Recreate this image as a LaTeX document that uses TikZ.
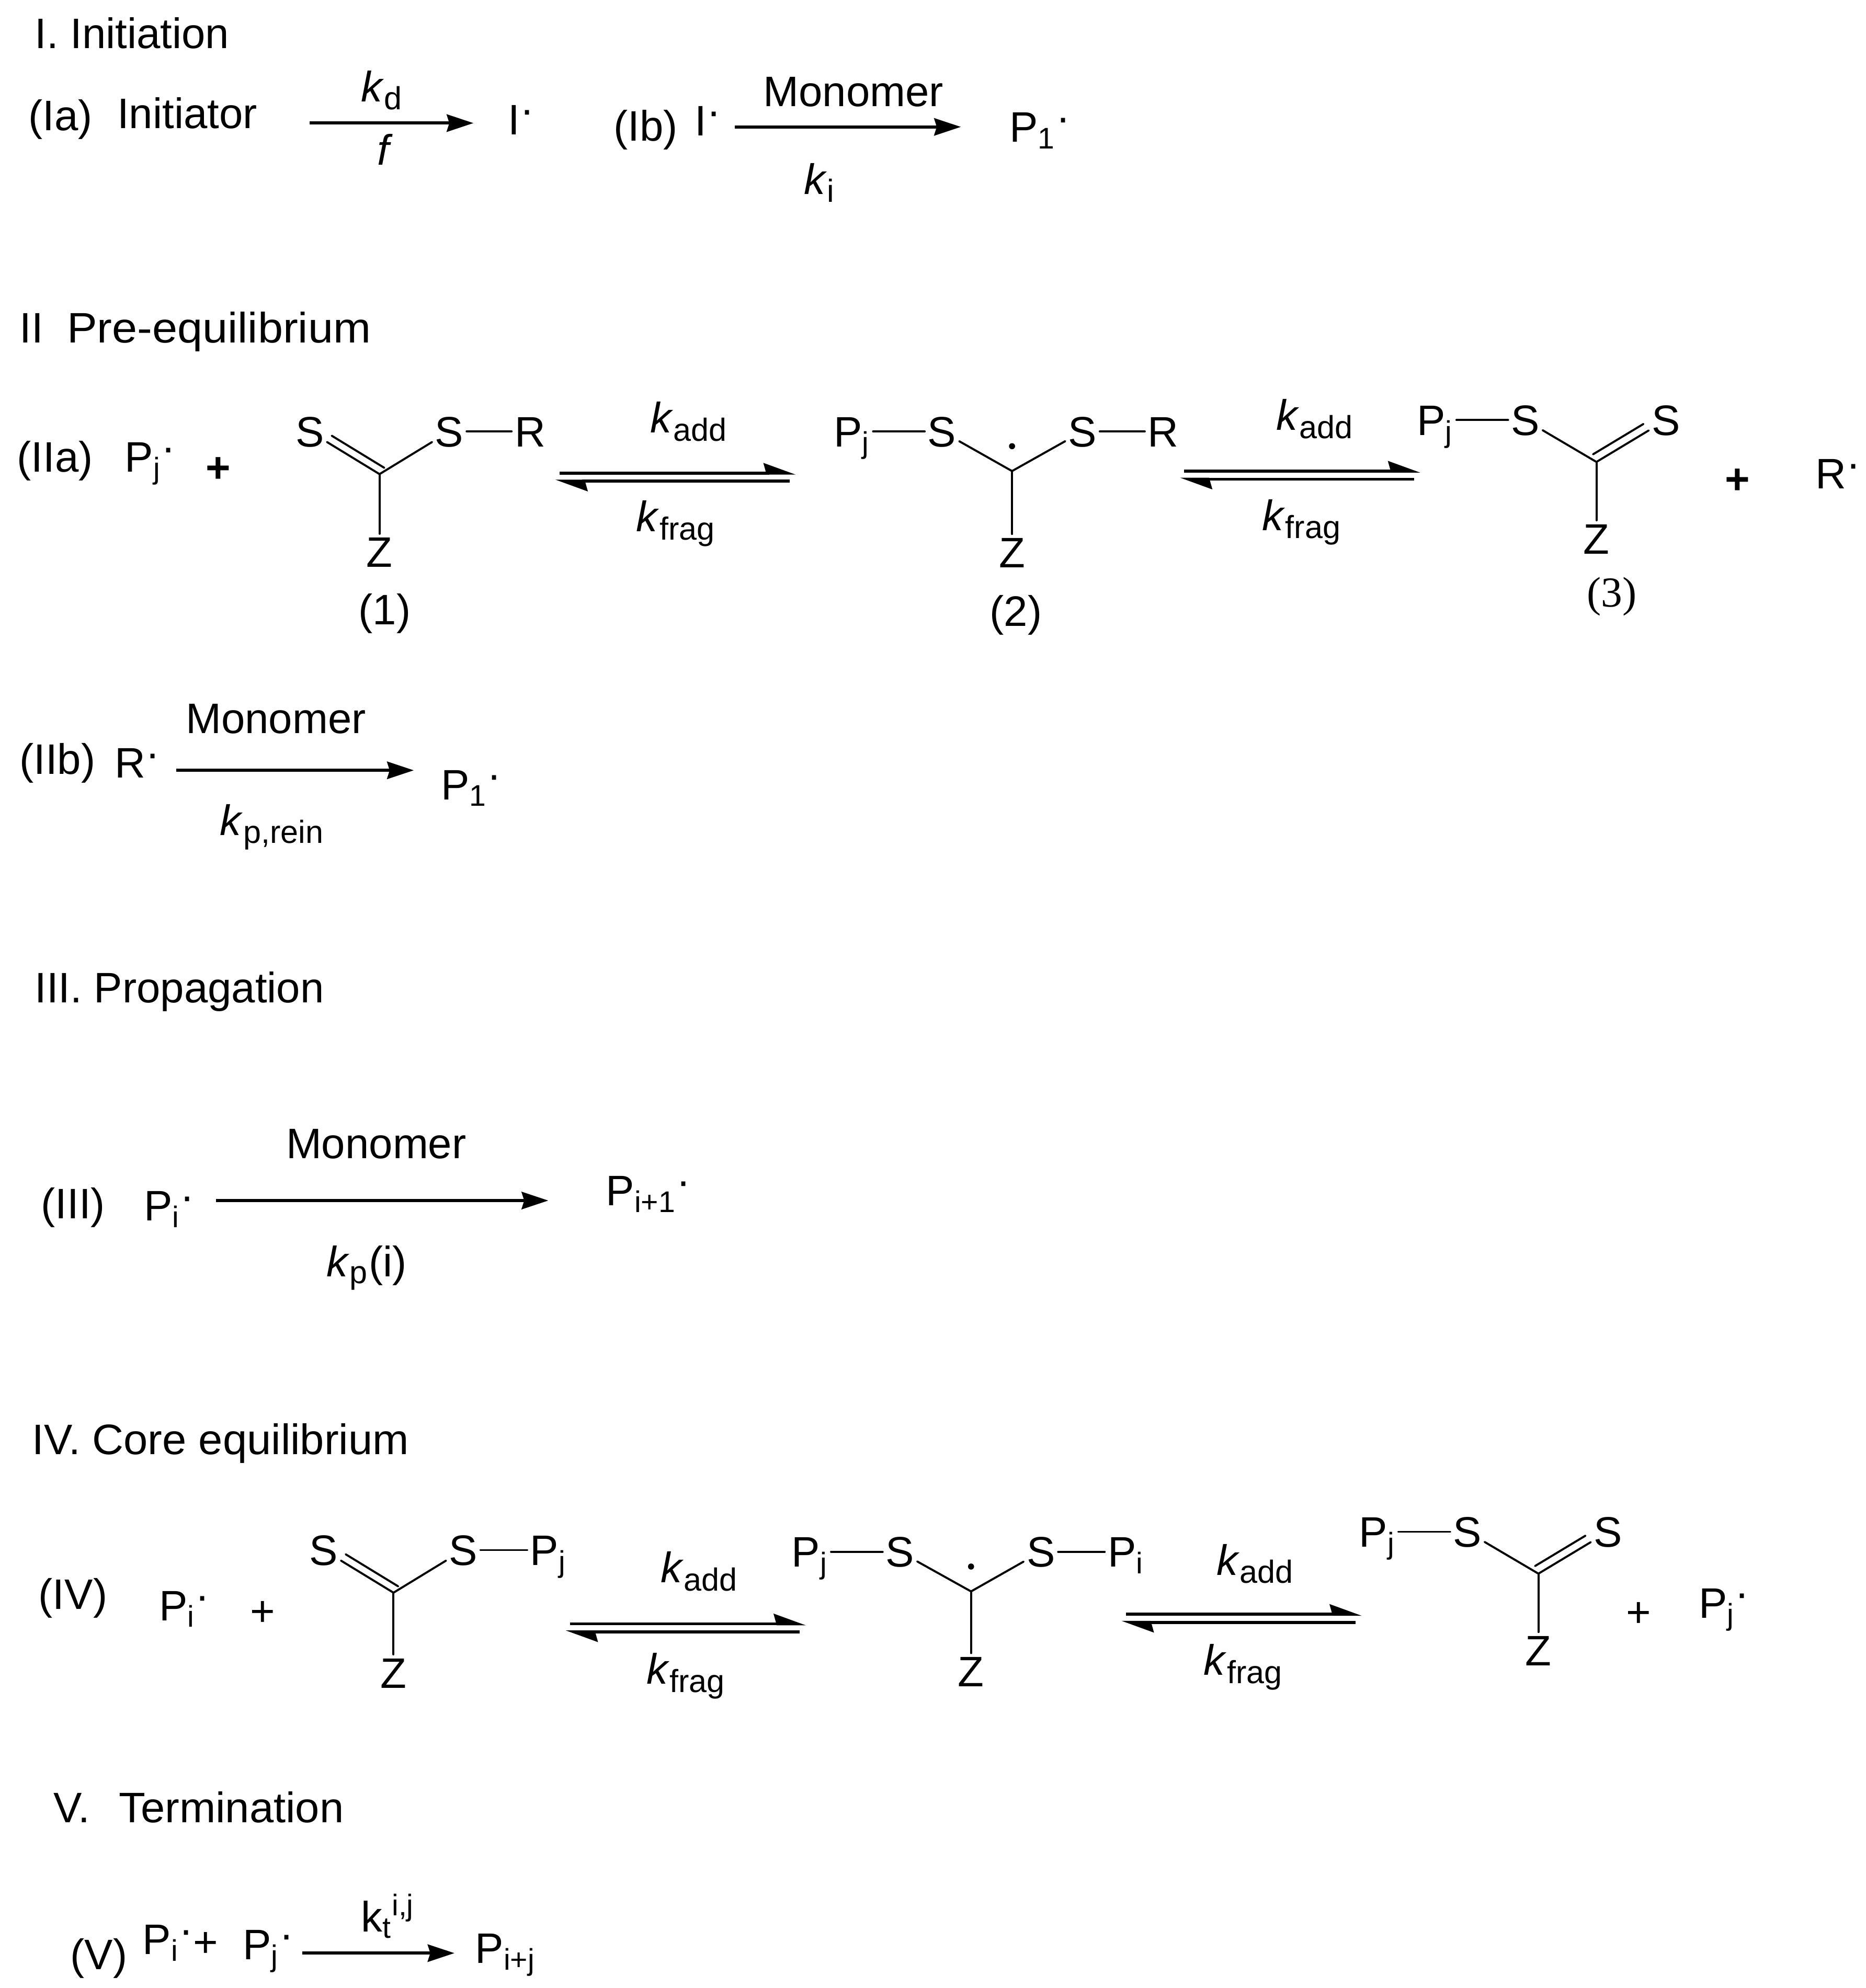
\documentclass[tikz,border=0pt]{standalone}
\usepackage{fontspec}
\usepackage{graphicx}
\setmainfont{Liberation Sans}
\newfontfamily\numfont{Liberation Serif}
\usetikzlibrary{arrows.meta, calc, positioning}
\newcommand{\rad}{\raisebox{.24em}{·}}
\newcommand{\ksub}[1]{\textsubscript{\fontsize{12.6}{14}\selectfont #1}}
\newcommand{\kadd}{\textit{k}\ksub{add}}
\newcommand{\kfrag}{\textit{k}\ksub{frag}}

\begin{document}
\begin{tikzpicture}[x=0.5pt,y=-0.5pt,on grid,font=\fontsize{16.8}{20}\selectfont]

	\tikzset{lbl/.style={anchor=base west, inner sep=0pt}}
	\tikzset{atom/.style={inner sep=1pt, text height=12pt, text depth=0pt}}
	\tikzset{ctr/.style={inner sep=0pt, minimum size=0pt}}
	\tikzset{raddot/.style={circle, fill=black, inner sep=0pt, minimum size=2.4pt}}
	\tikzset{bond/.style={line width=0.8pt, line cap=round}}
	\tikzset{rxn/.style={-{Stealth[length=10.5pt,width=6.8pt,inset=1pt]}, line width=1.2pt}}
	\tikzset{eqm/.style={-{Stealth[left,length=11pt,width=7.8pt,inset=1pt]}, line width=1.2pt}}

	\useasboundingbox (0,0) rectangle (1470,1566.5);

	% I. Initiation
	\node[lbl] at (27,38) (hI) {I. Initiation};
	\node[lbl] at (22,103) (tIa) {(Ia)};
	\node[lbl] at (92,101) (initr) {Initiator};
	\node[lbl] at (284,80) (kd) {\textit{k}\ksub{d}};
	\node[lbl] at (297,130) (fa) {\textit{f}};
	\node[lbl] at (400,106) (Ia) {I\rad};
	\node[lbl] at (483,111) (tIb) {(Ib)};
	\node[lbl] at (547,107) (Ib) {I\rad};
	\node[lbl] at (601,84) (monI) {Monomer};
	\node[lbl] at (633,153) (ki) {\textit{k}\ksub{i}};
	\node[lbl] at (795,112) (PaI) {P\textsubscript{1}\rad};

	% II. Pre-equilibrium
	\node[lbl] at (15,270) (hII) {II\ \ \scalebox{1.06}[1]{Pre-equilibrium}};
	\node[lbl] at (13,372) (tIIa) {(IIa)};
	\node[lbl] at (98,372) (PjA) {P\textsubscript{j}\rad};
	\node[atom] at (172,368) (plA) {\textbf{+}};

	\node[ctr] at (299,373.6) (C1) {};
	\node[atom, above left=16.8pt and 27.5pt of C1] (S1a) {S};
	\node[atom, above right=16.8pt and 27.5pt of C1] (S1b) {S};
	\node[atom, right=31.8pt of S1b] (R1) {R};
	\node[atom, below=30.7pt of C1] (Z1) {Z};
	\node[atom, below=22.5pt of Z1, xshift=2pt] (lab1) {(1)};
	\draw[bond] (C1) -- (S1a);
	\draw[bond, shorten >=8pt] ($(C1)+(3.7,-5)$) -- ($(S1a)+(3.7,-5)$);
	\draw[bond] (C1) -- (S1b);
	\draw[bond] (S1b) -- (R1);
	\draw[bond] (C1) -- (Z1);

	\node[lbl] at (512,341) (kaA) {\kadd};
	\node[lbl] at (501,419) (kfA) {\kfrag};

	\node[ctr] at (797.3,371.2) (C2) {};
	\node[atom, above left=15.6pt and 27.6pt of C2] (S2a) {S};
	\node[atom, above right=15.6pt and 27.75pt of C2] (S2b) {S};
	\node[atom, left=35.5pt of S2a] (P2) {P\textsubscript{j}};
	\node[atom, right=31.8pt of S2b] (R2) {R};
	\node[atom, below=32pt of C2] (Z2) {Z};
	\node[atom, below=23pt of Z2, xshift=1.5pt] (lab2) {(2)};
	\node[raddot, above=9.8pt of C2] (D2) {};
	\draw[bond] (C2) -- (S2a);
	\draw[bond] (C2) -- (S2b);
	\draw[bond] (P2) -- (S2a);
	\draw[bond] (S2b) -- (R2);
	\draw[bond] (C2) -- (Z2);

	\node[lbl] at (1005,339) (kaB) {\kadd};
	\node[lbl] at (994,418) (kfB) {\kfrag};

	\node[ctr] at (1257.7,364) (C3) {};
	\node[atom, above left=16.5pt and 28pt of C3] (S3a) {S};
	\node[atom, above right=16.5pt and 27.4pt of C3] (S3b) {S};
	\node[atom, left=35.5pt of S3a] (P3) {P\textsubscript{j}};
	\node[atom, below=30.2pt of C3] (Z3) {Z};
	\node[atom, below=20.8pt of Z3, xshift=6pt] (lab3) {\numfont (3)};
	\draw[bond] (C3) -- (S3a);
	\draw[bond] (C3) -- (S3b);
	\draw[bond, shorten >=8.8pt] ($(C3)+(-2.7,-6)$) -- ($(S3b)+(-2.7,-6)$);
	\draw[bond] (P3) -- (S3a);
	\draw[bond] (C3) -- (Z3);

	\node[atom] at (1369,377) (plB) {\textbf{+}};
	\node[lbl] at (1430,385) (RA) {R\rad};

	% IIb
	\node[lbl] at (15,610) (tIIb) {(IIb)};
	\node[lbl] at (90,613) (RB) {R\rad};
	\node[lbl] at (146,578) (monII) {Monomer};
	\node[lbl] at (173,658) (kpr) {\textit{k}\ksub{p,rein}};
	\node[lbl] at (347,630) (PaII) {P\textsubscript{1}\rad};

	% III. Propagation
	\node[lbl] at (27,790) (hIII) {III. Propagation};
	\node[lbl] at (32,960) (tIII) {(III)};
	\node[lbl] at (113,962) (PiA) {P\textsubscript{i}\rad};
	\node[lbl] at (225,913) (monIII) {Monomer};
	\node[lbl] at (257,1006) (kpi) {\textit{k}\ksub{p}(i)};
	\node[lbl] at (477,950) (Pip) {P\textsubscript{i+1}\rad};

	% IV. Core equilibrium
	\node[lbl] at (25,1146) (hIV) {IV.\ \scalebox{1.02}[1]{Core equilibrium}};
	\node[lbl] at (30,1268) (tIV) {(IV)};
	\node[lbl] at (125,1277) (PiB) {P\textsubscript{i}\rad};
	\node[atom] at (207,1269) (plC) {+};

	\node[ctr] at (310,1255) (C4) {};
	\node[atom, above left=16.8pt and 27.5pt of C4] (S4a) {S};
	\node[atom, above right=16.8pt and 27.5pt of C4] (S4b) {S};
	\node[atom, right=33.5pt of S4b] (P4) {P\textsubscript{j}};
	\node[atom, below=31.5pt of C4] (Z4) {Z};
	\draw[bond] (C4) -- (S4a);
	\draw[bond, shorten >=8pt] ($(C4)+(3.7,-5)$) -- ($(S4a)+(3.7,-5)$);
	\draw[bond] (C4) -- (S4b);
	\draw[bond] (S4b) -- (P4);
	\draw[bond] (C4) -- (Z4);

	\node[lbl] at (520,1247) (kaC) {\kadd};
	\node[lbl] at (509,1327) (kfC) {\kfrag};

	\node[ctr] at (765,1254) (C5) {};
	\node[atom, above left=15.6pt and 28pt of C5] (S5a) {S};
	\node[atom, above right=15.6pt and 27.5pt of C5] (S5b) {S};
	\node[atom, left=35.5pt of S5a] (P5a) {P\textsubscript{j}};
	\node[atom, right=33.5pt of S5b] (P5b) {P\textsubscript{i}};
	\node[atom, below=31.5pt of C5] (Z5) {Z};
	\node[raddot, above=9.8pt of C5] (D5) {};
	\draw[bond] (C5) -- (S5a);
	\draw[bond] (C5) -- (S5b);
	\draw[bond] (P5a) -- (S5a);
	\draw[bond] (S5b) -- (P5b);
	\draw[bond] (C5) -- (Z5);

	\node[lbl] at (958,1241) (kaD) {\kadd};
	\node[lbl] at (948,1320) (kfD) {\kfrag};

	\node[ctr] at (1212,1240) (C6) {};
	\node[atom, above left=16.5pt and 28pt of C6] (S6a) {S};
	\node[atom, above right=16.5pt and 27.4pt of C6] (S6b) {S};
	\node[atom, left=35.5pt of S6a] (P6) {P\textsubscript{j}};
	\node[atom, below=30.2pt of C6] (Z6) {Z};
	\draw[bond] (C6) -- (S6a);
	\draw[bond] (C6) -- (S6b);
	\draw[bond, shorten >=8.8pt] ($(C6)+(-2.7,-6)$) -- ($(S6b)+(-2.7,-6)$);
	\draw[bond] (P6) -- (S6a);
	\draw[bond] (C6) -- (Z6);

	\node[atom] at (1291,1270) (plD) {+};
	\node[lbl] at (1338,1275) (PjB) {P\textsubscript{j}\rad};

	% V. Termination
	\node[lbl] at (42,1436) (hV) {V.\ \ \hspace{2pt}\scalebox{1.02}[1]{Termination}};
	\node[lbl] at (55,1552) (tV) {(V)};
	\node[lbl] at (112,1540) (PiC) {P\textsubscript{i}\rad};
	\node[atom] at (162,1530) (plE) {+};
	\node[lbl] at (191,1544) (PjC) {P\textsubscript{j}\rad};
	\node[lbl] at (284,1522) (kt) {k\textsubscript{t}\textsuperscript{i,j}};
	\node[lbl] at (374,1547) (Pij) {P\textsubscript{i+j}};

	% single arrows
	\foreach \n/\xa/\xb/\y in {aIa/244/373/97, aIb/579/757/100, aIIb/139/326/607, aIII/170/432/946, aV/238/358/1539}{
		\coordinate (\n s) at (\xa,\y);
		\coordinate (\n e) at (\xb,\y);
		\draw[rxn] (\n s) -- (\n e);
	}

	% equilibrium arrows
	\foreach \n/\x/\y in {eA/441/372.8, eB/933/371.2, eC/449/1279.5, eD/887/1272}{
		\coordinate (\n ts) at (\x,\y);
		\coordinate (\n te) at (\x+186,\y);
		\coordinate (\n bs) at (\x+181,\y+6.4);
		\coordinate (\n be) at (\x-3.5,\y+6.4);
		\draw[eqm] (\n ts) -- (\n te);
		\draw[eqm] (\n bs) -- (\n be);
	}

\end{tikzpicture}
\end{document}
